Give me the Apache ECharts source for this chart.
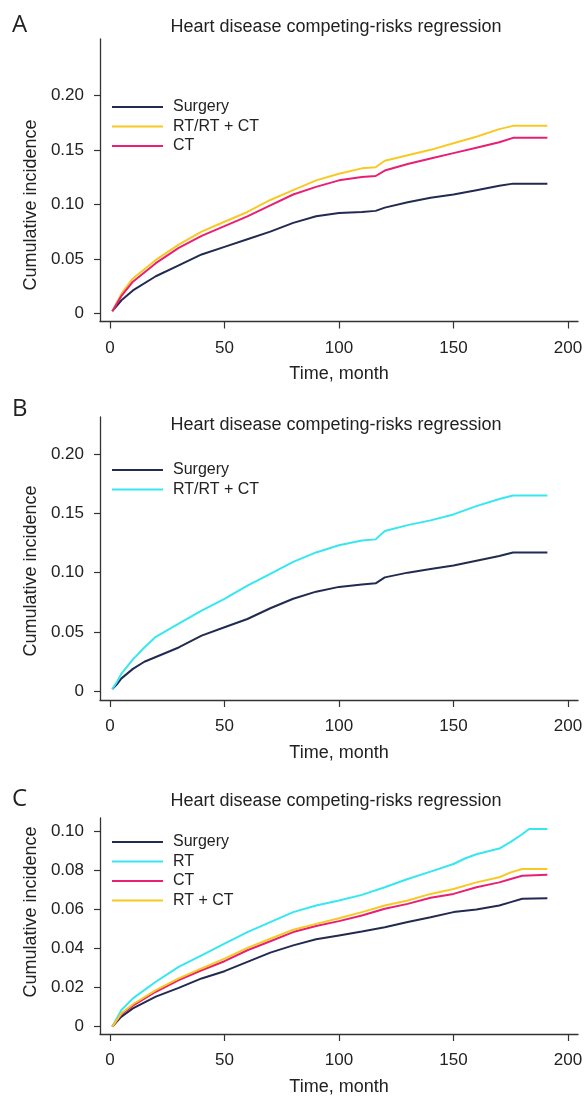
<!DOCTYPE html>
<html>
<head>
<meta charset="utf-8">
<script src="https://cdn.jsdelivr.net/npm/echarts@6/dist/echarts.min.js"></script>
<style>
html, body { margin: 0; padding: 0; background: #fff; }
#main { width: 587px; height: 1097px; }
</style>
</head>
<body>
<div id="main"></div>
<script>
// x ticks and labels (months)
var xTicks = [0, 50, 100, 150, 200];
var yTicksAB = [0, 0.05, 0.10, 0.15, 0.20];
var yTicksC = [0, 0.02, 0.04, 0.06, 0.08, 0.10];

// panel A
var timeA = [1, 5, 10, 20, 30, 40, 50, 60, 70, 80, 90, 100, 110, 116, 120, 130, 140, 150, 160, 170, 176, 191];
var surgeryA = [0.002, 0.012, 0.021, 0.034, 0.044, 0.054, 0.061, 0.068, 0.075, 0.083, 0.089, 0.092, 0.093, 0.094, 0.097, 0.102, 0.106, 0.109, 0.113, 0.117, 0.119, 0.119];
var rtA = [0.002, 0.018, 0.032, 0.049, 0.063, 0.075, 0.084, 0.093, 0.104, 0.113, 0.122, 0.128, 0.133, 0.134, 0.140, 0.145, 0.150, 0.156, 0.162, 0.169, 0.172, 0.172];
var ctA = [0.002, 0.016, 0.029, 0.046, 0.060, 0.071, 0.080, 0.089, 0.099, 0.109, 0.116, 0.122, 0.125, 0.126, 0.131, 0.137, 0.142, 0.147, 0.152, 0.157, 0.161, 0.161];

// panel B
var timeB = [1, 3, 5, 10, 15, 20, 30, 40, 50, 60, 70, 80, 90, 100, 110, 116, 120, 130, 140, 150, 160, 170, 176, 191];
var surgeryB = [0.002, 0.006, 0.011, 0.019, 0.025, 0.029, 0.037, 0.047, 0.054, 0.061, 0.070, 0.078, 0.084, 0.088, 0.090, 0.091, 0.096, 0.100, 0.103, 0.106, 0.110, 0.114, 0.117, 0.117];
var rtB = [0.002, 0.008, 0.015, 0.027, 0.037, 0.046, 0.057, 0.068, 0.078, 0.089, 0.099, 0.109, 0.117, 0.123, 0.127, 0.128, 0.135, 0.140, 0.144, 0.149, 0.156, 0.162, 0.165, 0.165];

// panel C
var timeC = [1, 5, 10, 20, 30, 40, 50, 60, 70, 80, 90, 100, 110, 120, 130, 140, 150, 160, 170, 175, 180, 191];
var surgeryC = [0, 0.0051, 0.0093, 0.0153, 0.0198, 0.0246, 0.0283, 0.0331, 0.0378, 0.0415, 0.0446, 0.0466, 0.0486, 0.0508, 0.0534, 0.0559, 0.0585, 0.0598, 0.0619, 0.0636, 0.0653, 0.0656];
var ctC = [0, 0.0063, 0.0107, 0.0178, 0.0237, 0.0288, 0.0334, 0.0390, 0.0436, 0.0483, 0.0514, 0.0539, 0.0568, 0.0602, 0.0627, 0.0658, 0.0678, 0.0712, 0.0737, 0.0754, 0.0771, 0.0776];
var rtctC = [0, 0.0068, 0.0114, 0.0186, 0.0246, 0.0297, 0.0347, 0.0402, 0.0449, 0.0495, 0.0525, 0.0554, 0.0585, 0.0619, 0.0644, 0.0678, 0.0703, 0.0737, 0.0763, 0.0788, 0.0805, 0.0805];
var timeRtC = [1, 5, 10, 20, 30, 40, 50, 60, 70, 80, 90, 100, 110, 120, 130, 140, 150, 155, 160, 170, 175, 180, 183, 191];
var rtC = [0, 0.0085, 0.0144, 0.0229, 0.0305, 0.0364, 0.0424, 0.0483, 0.0534, 0.0585, 0.0619, 0.0644, 0.0673, 0.0712, 0.0754, 0.0792, 0.0831, 0.0859, 0.0881, 0.0910, 0.0944, 0.0983, 0.101, 0.101];

var NAVY = '#222a52';
var YELLOW = '#f8c925';
var PINK = '#e91f73';
var CYAN = '#36e7ef';
var FONT = '"Liberation Sans", Arial, sans-serif';
var TEXT = '#222';

function pairs(xs, ys) {
	var out = [];
	for (var i = 0; i < xs.length; i++) {
		out.push([xs[i], ys[i]]);
	}
	return out;
}

function lineSeries(name, idx, xs, ys, color) {
	return {
		name: name,
		type: 'line',
		xAxisIndex: idx,
		yAxisIndex: idx,
		data: pairs(xs, ys),
		showSymbol: false,
		symbol: 'none',
		lineStyle: { color: color, width: 2 },
		itemStyle: { color: color },
		silent: true,
		animation: false
	};
}

function makeX(idx) {
	return {
		type: 'value',
		gridIndex: idx,
		min: -4.37,
		max: 204.37,
		name: 'Time, month',
		nameLocation: 'middle',
		nameGap: 44,
		nameTextStyle: { fontFamily: FONT, fontSize: 18, color: TEXT },
		axisLine: { show: true, onZero: false, lineStyle: { color: '#333', width: 1.3 } },
		axisTick: { show: true, length: 7, customValues: xTicks, lineStyle: { color: '#333', width: 1.2 } },
		axisLabel: { customValues: xTicks, margin: 18, fontFamily: FONT, fontSize: 17, color: TEXT },
		splitLine: { show: false }
	};
}

function makeY(idx, min, max, ticks) {
	return {
		type: 'value',
		gridIndex: idx,
		min: min,
		max: max,
		axisLine: { show: true, onZero: false, lineStyle: { color: '#333', width: 1.3 } },
		axisTick: { show: true, length: 6, customValues: ticks, lineStyle: { color: '#333', width: 1.2 } },
		axisLabel: {
			customValues: ticks,
			margin: 16,
			fontFamily: FONT,
			fontSize: 17,
			color: TEXT,
			formatter: function(v) {
				return v === 0 ? '0' : v.toFixed(2);
			}
		},
		splitLine: { show: false }
	};
}

function makeLegend(top, items) {
	return {
		orient: 'vertical',
		left: 112,
		top: top,
		padding: 0,
		icon: 'rect',
		itemWidth: 51,
		itemHeight: 2,
		itemGap: 3.5,
		selectedMode: false,
		textStyle: { fontFamily: FONT, fontSize: 16, color: TEXT, lineHeight: 16, padding: [0, 0, 0, 5] },
		data: items.map(function(it) {
			return { name: it[0], itemStyle: { color: it[1] } };
		})
	};
}

function heading(letter, ly, ty) {
	return [{
		type: 'text', left: 12, top: ly - 14,
		style: { text: letter, font: '24px "Open Sans", sans-serif', fill: TEXT }
	}, {
		type: 'text', x: 336, y: ty,
		style: { text: 'Heart disease competing-risks regression', font: '18px ' + FONT, fill: TEXT, align: 'center', verticalAlign: 'middle' }
	}];
}

function yName(cy) {
	return {
		type: 'text', x: 31, y: cy, rotation: Math.PI / 2,
		style: { text: 'Cumulative incidence', font: '18px ' + FONT, fill: TEXT, align: 'center', verticalAlign: 'middle' }
	};
}

var myChart = echarts.init(document.getElementById('main'), null, { renderer: 'canvas' });

var option = {
	animation: false,
	grid: [
		{ left: 100, width: 478, top: 39, height: 282.5 },
		{ left: 100, width: 478, top: 417, height: 283 },
		{ left: 100, width: 478, top: 818, height: 217 }
	],
	xAxis: [makeX(0), makeX(1), makeX(2)],
	yAxis: [
		makeY(0, -0.0075, 0.2517, yTicksAB),
		makeY(1, -0.0072, 0.231, yTicksAB),
		makeY(2, -0.0038, 0.1066, yTicksC)
	],
	legend: [
		makeLegend(99, [['Surgery', NAVY], ['RT/RT + CT', YELLOW], ['CT', PINK]]),
		makeLegend(462, [['Surgery', NAVY], ['RT/RT + CT', CYAN]]),
		makeLegend(834, [['Surgery', NAVY], ['RT', CYAN], ['CT', PINK], ['RT + CT', YELLOW]])
	],
	graphic: [].concat(
		heading('A', 27, 27),
		heading('B', 411, 425),
		heading('C', 801, 801),
		[yName(205), yName(571), yName(912)]
	),
	series: [
		lineSeries('Surgery', 0, timeA, surgeryA, NAVY),
		lineSeries('RT/RT + CT', 0, timeA, rtA, YELLOW),
		lineSeries('CT', 0, timeA, ctA, PINK),

		lineSeries('Surgery', 1, timeB, surgeryB, NAVY),
		lineSeries('RT/RT + CT', 1, timeB, rtB, CYAN),

		lineSeries('Surgery', 2, timeC, surgeryC, NAVY),
		lineSeries('RT', 2, timeRtC, rtC, CYAN),
		lineSeries('CT', 2, timeC, ctC, PINK),
		lineSeries('RT + CT', 2, timeC, rtctC, YELLOW)
	]
};

myChart.setOption(option);
</script>
</body>
</html>
